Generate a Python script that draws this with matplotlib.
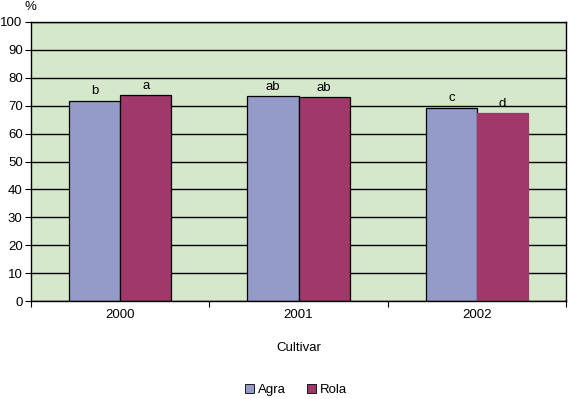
import matplotlib
matplotlib.use("Agg")
import matplotlib.pyplot as plt
import numpy as np
from matplotlib.patches import Patch

years = ["2000", "2001", "2002"]
agra = [71.8, 73.4, 69.3]
rola = [73.7, 73.0, 67.4]
agra_letters = ["b", "ab", "c"]
rola_letters = ["a", "ab", "d"]
yticks = list(range(0, 101, 10))

plt.rcParams['font.family'] = ['Liberation Sans', 'DejaVu Sans']
fs = 9.5
fig = plt.figure(figsize=(5.68, 3.99), dpi=100)
ax = fig.add_axes([31/568, 1-301/399, (566-31)/568, (301-22)/399])
ax.set_facecolor('#D5E8CB')

x = np.arange(len(years))
w = 0.286
c_agra = '#949BC9'
c_rola = '#A0386A'
ax.set_axisbelow(True)
ax.yaxis.grid(True, color='black', linewidth=1)
b1 = ax.bar(x - w/2, agra, w, color=c_agra, edgecolor='black', linewidth=0.9)
b2 = ax.bar(x + w/2, rola, w, color=c_rola, edgecolor='black', linewidth=0.9)
b2[2].set_edgecolor(c_rola)

for xi, v, t in zip(x - w/2, agra, agra_letters):
    ax.text(xi, v + 1.2, t, ha='center', va='bottom', fontsize=fs)
for xi, v, t in zip(x + w/2, rola, rola_letters):
    ax.text(xi, v + 1.2, t, ha='center', va='bottom', fontsize=fs)

ax.set_xlim(-0.5, 2.5)
ax.set_ylim(0, 100)
ax.set_yticks(yticks)
ax.set_yticklabels([str(t) for t in yticks], fontsize=fs)
ax.set_xticks(x)
ax.set_xticklabels(years, fontsize=fs)
ax.set_xticks([-0.5, 0.5, 1.5, 2.5], minor=True)
ax.tick_params(axis='x', which='major', length=0, pad=6)
ax.tick_params(axis='x', which='minor', length=4, direction='out', width=0.8)
ax.tick_params(axis='y', length=4, direction='out', width=0.8, pad=2)
for s in ax.spines.values():
    s.set_linewidth(1)
    s.set_color('black')

fig.text(30/568, 1-7/399, '%', ha='center', va='center', fontsize=fs)
fig.text(299/568, 1-348/399, 'Cultivar', ha='center', va='center', fontsize=fs)

handles = [Patch(facecolor=c_agra, edgecolor='black', linewidth=0.6, label='Agra'),
           Patch(facecolor=c_rola, edgecolor='black', linewidth=0.6, label='Rola')]
fig.legend(handles=handles, loc='center', bbox_to_anchor=(296/568, 1-390/399), ncol=2,
           frameon=False, fontsize=fs, handlelength=0.65, handleheight=0.65,
           handletextpad=0.3, columnspacing=1.6)

fig.savefig('out.png', dpi=100)
